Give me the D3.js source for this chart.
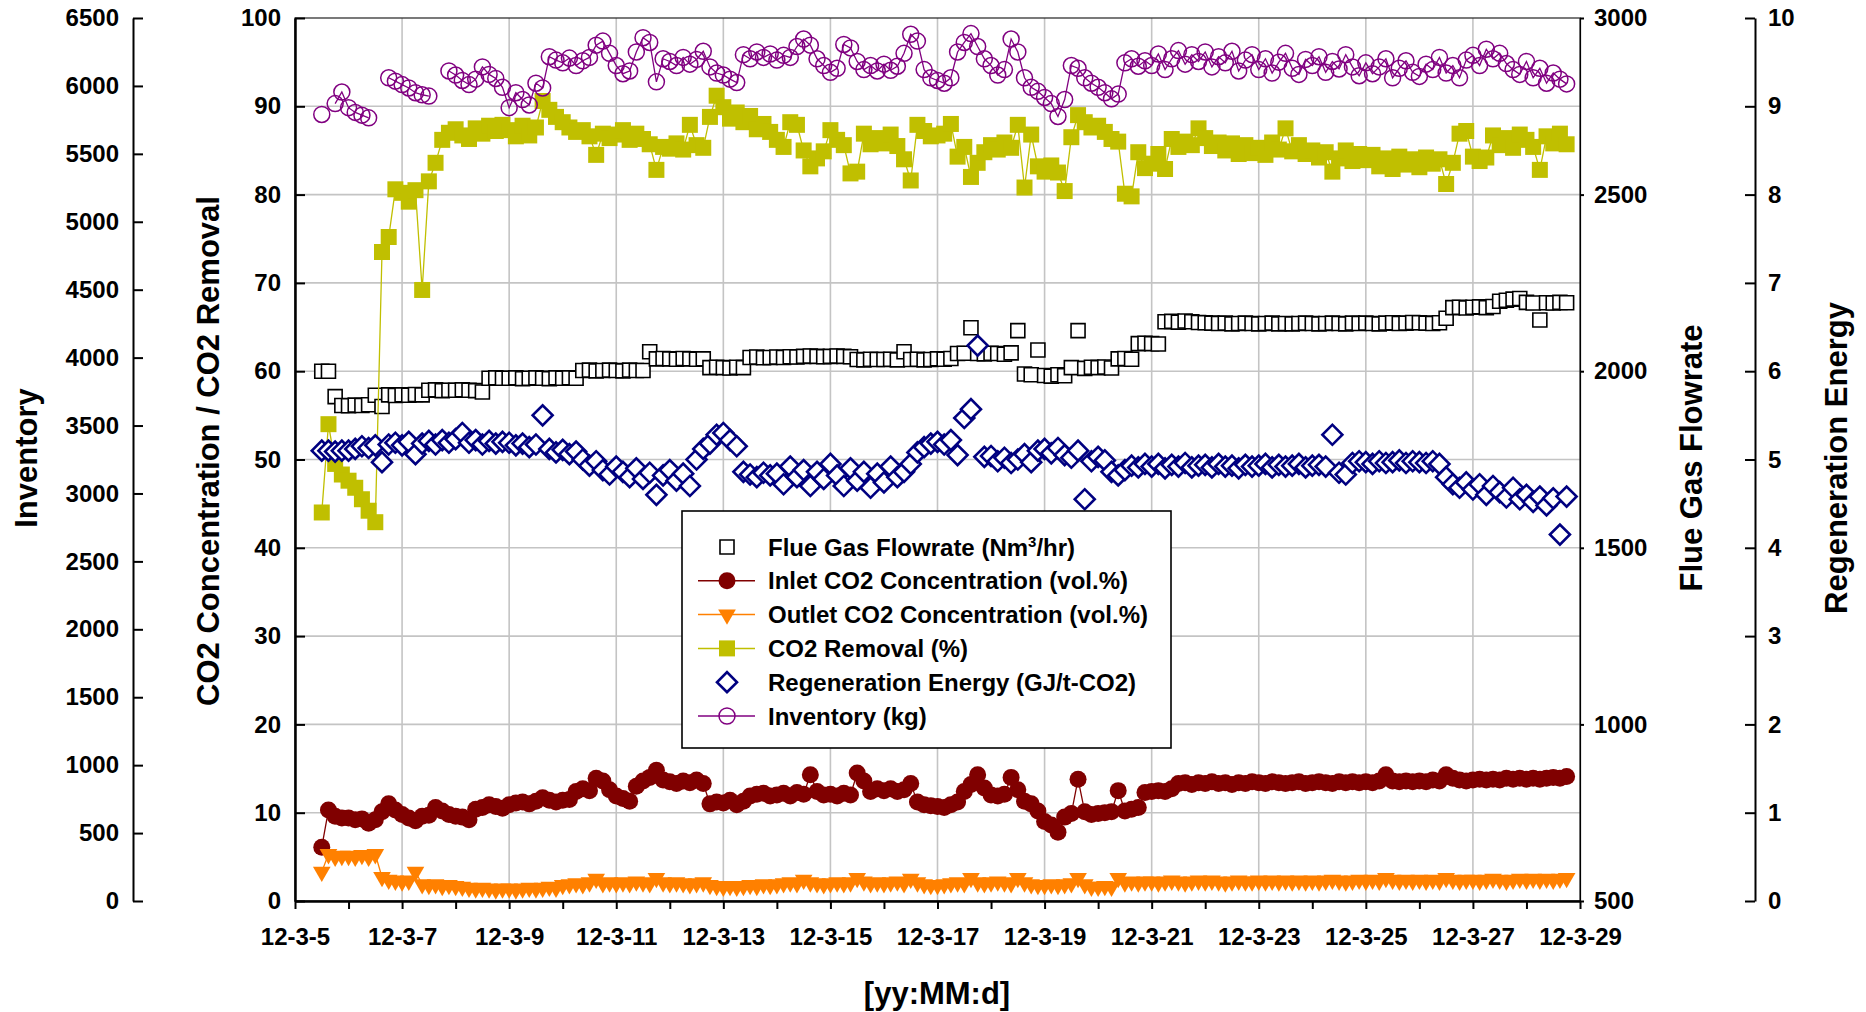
<!DOCTYPE html>
<html>
<head>
<meta charset="utf-8">
<script src="https://cdn.jsdelivr.net/npm/d3@7"></script>
<style>
  body { margin: 0; background: #fff; }
  svg { display: block; font-family: "Liberation Sans", Arial, sans-serif; font-weight: bold; }
</style>
</head>
<body>
<svg id="chart" width="1866" height="1012"></svg>
<script>
// one row per day starting 12-3-5, one reading every 3 hours
const slotHours = [0, 3, 6, 9, 12, 15, 18, 21];

// Flue gas flowrate (Nm3/hr)
const flueGas = [
  [null, null, null, null, 2000, 2000, 1928, 1903],
  [1902, 1904, 1903, 1905, 1932, 1900, 1933, 1931],
  [1933, 1932, 1934, 1933, 1946, 1947, 1945, 1946],
  [1946, 1947, 1946, 1945, 1941, 1980, 1981, 1980],
  [1980, 1981, 1979, 1980, 1981, 1980, 1979, 1981],
  [1980, 1981, 1980, 2002, 2003, 2001, 2002, 2003],
  [2002, 2001, 2003, 2002, 2002, 2055, 2035, 2036],
  [2035, 2034, 2036, 2035, 2034, 2035, 2010, 2011],
  [2010, 2009, 2011, 2010, 2039, 2040, 2038, 2039],
  [2040, 2039, 2041, 2040, 2042, 2043, 2042, 2041],
  [2042, 2043, 2042, 2041, 2033, 2032, 2034, 2033],
  [2033, 2034, 2032, 2055, 2033, 2034, 2032, 2033],
  [2035, 2034, 2036, 2050, 2051, 2123, 2050, 2049],
  [2051, 2050, 2048, 2052, 2115, 1992, 1990, 2060],
  [1988, 1986, 1990, 1987, 2010, 2115, 2008, 2011],
  [2010, 2012, 2009, 2035, 2036, 2034, 2078, 2079],
  [2078, 2077, 2140, 2141, 2139, 2142, 2140, 2138],
  [2137, 2136, 2135, 2136, 2134, 2135, 2136, 2135],
  [2134, 2135, 2136, 2134, 2135, 2134, 2135, 2136],
  [2135, 2134, 2135, 2136, 2135, 2134, 2136, 2135],
  [2136, 2135, 2134, 2136, 2137, 2135, 2136, 2138],
  [2137, 2136, 2135, 2137, 2150, 2180, 2181, 2179],
  [2181, 2182, 2180, 2183, 2198, 2201, 2204, 2206],
  [2195, 2193, 2145, 2194, 2193, 2195, 2194, null]
];

// Inlet CO2 concentration (vol.%)
const inletCO2 = [
  [null, null, null, null, 6.1, 10.3, 9.6, 9.4],
  [9.4, 9.2, 9.3, 8.8, 9.2, 10.1, 11.0, 10.3],
  [9.8, 9.4, 9.1, 9.6, 9.7, 10.6, 10.2, 9.8],
  [9.6, 9.5, 9.2, 10.4, 10.6, 10.9, 10.7, 10.5],
  [10.9, 11.1, 11.2, 11.0, 11.3, 11.7, 11.4, 11.2],
  [11.4, 11.5, 12.4, 12.7, 12.5, 13.9, 13.6, 12.6],
  [11.9, 11.6, 11.3, 13.0, 13.6, 14.0, 14.8, 13.7],
  [13.5, 13.3, 13.6, 13.4, 13.7, 13.3, 11.0, 11.2],
  [11.1, 11.4, 10.9, 11.3, 11.9, 12.1, 12.2, 11.9],
  [12.0, 12.2, 11.9, 12.3, 12.1, 14.3, 12.4, 12.0],
  [12.1, 11.9, 12.2, 12.0, 14.5, 13.6, 12.4, 12.7],
  [12.5, 12.7, 12.4, 12.6, 13.3, 11.2, 10.9, 10.8],
  [10.7, 10.6, 10.9, 11.2, 12.4, 13.2, 14.3, 12.8],
  [12.0, 11.9, 12.1, 14.0, 12.6, 11.3, 11.0, 10.2],
  [9.0, 8.6, 7.8, 9.5, 9.9, 13.8, 10.1, 9.8],
  [9.9, 10.0, 10.1, 12.5, 10.2, 10.4, 10.6, 12.3],
  [12.4, 12.5, 12.4, 12.7, 13.3, 13.4, 13.2, 13.4],
  [13.3, 13.5, 13.3, 13.4, 13.2, 13.4, 13.3, 13.5],
  [13.4, 13.3, 13.5, 13.4, 13.3, 13.4, 13.5, 13.3],
  [13.4, 13.5, 13.4, 13.3, 13.5, 13.4, 13.5, 13.4],
  [13.5, 13.4, 13.6, 14.3, 13.6, 13.5, 13.6, 13.5],
  [13.6, 13.5, 13.7, 13.6, 14.3, 13.9, 13.7, 13.6],
  [13.7, 13.8, 13.7, 13.8, 13.7, 13.9, 13.8, 13.9],
  [13.8, 13.9, 13.8, 13.9, 14.0, 13.9, 14.1, null]
];

// Outlet CO2 concentration (vol.%)
const outletCO2 = [
  [null, null, null, null, 3.3, 5.3, 5.0, 5.1],
  [5.1, 5.0, 5.2, 5.0, 5.3, 2.7, 2.4, 2.3],
  [2.2, 2.3, 3.3, 1.9, 1.8, 1.9, 1.7, 1.8],
  [1.7, 1.6, 1.5, 1.4, 1.5, 1.4, 1.3, 1.4],
  [1.4, 1.3, 1.4, 1.5, 1.4, 1.5, 1.6, 1.5],
  [1.8, 1.9, 2.0, 1.9, 2.1, 2.5, 2.0, 2.1],
  [2.0, 2.1, 2.0, 2.2, 2.1, 2.0, 2.6, 2.1],
  [2.0, 2.1, 2.0, 1.9, 2.0, 2.1, 1.8, 1.7],
  [1.6, 1.7, 1.6, 1.7, 1.8, 1.7, 1.9, 1.8],
  [1.9, 2.0, 2.1, 2.0, 2.4, 2.1, 2.0, 1.9],
  [2.0, 2.1, 2.0, 2.1, 2.6, 2.2, 2.0, 2.1],
  [2.0, 2.1, 2.2, 2.0, 2.5, 2.1, 1.9, 1.8],
  [1.8, 1.9, 2.0, 2.1, 2.0, 2.6, 2.1, 2.0],
  [2.1, 2.2, 2.1, 2.0, 2.6, 2.1, 1.9, 1.8],
  [1.8, 1.9, 1.8, 1.9, 2.0, 2.6, 1.9, 1.6],
  [1.6, 1.7, 1.6, 2.6, 2.1, 2.2, 2.1, 2.2],
  [2.2, 2.1, 2.2, 2.3, 2.2, 2.1, 2.2, 2.3],
  [2.2, 2.3, 2.2, 2.1, 2.2, 2.3, 2.2, 2.2],
  [2.3, 2.2, 2.3, 2.2, 2.3, 2.2, 2.3, 2.2],
  [2.3, 2.2, 2.3, 2.4, 2.3, 2.2, 2.3, 2.4],
  [2.3, 2.4, 2.3, 2.6, 2.4, 2.3, 2.4, 2.3],
  [2.4, 2.3, 2.4, 2.3, 2.6, 2.4, 2.3, 2.4],
  [2.4, 2.3, 2.4, 2.5, 2.4, 2.3, 2.4, 2.5],
  [2.4, 2.5, 2.4, 2.5, 2.4, 2.5, 2.6, null]
];

// CO2 removal (%)
const removal = [
  [null, null, null, null, 44.0, 54.0, 49.5, 48.3],
  [47.6, 46.8, 45.5, 44.2, 42.9, 73.5, 75.2, 80.6],
  [80.2, 79.2, 80.5, 69.2, 81.5, 83.6, 86.2, 87.0],
  [87.4, 86.7, 86.3, 87.5, 86.9, 87.8, 87.2, 87.9],
  [87.3, 86.6, 87.8, 86.7, 87.6, 90.6, 89.6, 88.8],
  [88.2, 87.6, 87.1, 87.3, 86.6, 84.5, 86.9, 86.4],
  [86.8, 87.3, 86.2, 86.9, 86.3, 85.7, 82.8, 85.4],
  [85.2, 85.8, 85.1, 87.9, 85.6, 85.3, 88.8, 91.2],
  [89.9, 88.6, 89.3, 88.2, 88.9, 87.4, 88.0, 87.1],
  [86.2, 85.4, 88.2, 87.9, 85.0, 83.2, 84.1, 84.9],
  [87.3, 86.2, 85.6, 82.4, 82.6, 86.9, 85.7, 86.4],
  [85.8, 86.8, 85.5, 84.0, 81.6, 87.9, 87.2, 86.6],
  [86.7, 86.9, 88.0, 84.3, 85.4, 82.0, 83.6, 84.8],
  [85.6, 85.1, 85.9, 85.3, 87.9, 80.8, 86.8, 83.2],
  [82.6, 83.3, 82.5, 80.4, 86.5, 89.0, 88.2, 87.6],
  [87.8, 87.1, 86.3, 86.0, 80.1, 79.8, 84.8, 83.0],
  [83.5, 84.6, 82.9, 86.3, 85.4, 86.0, 85.6, 87.5],
  [86.4, 85.5, 85.9, 85.0, 85.8, 84.6, 85.6, 84.7],
  [85.3, 84.5, 85.9, 85.1, 87.5, 84.9, 85.6, 84.6],
  [85.0, 84.2, 84.8, 82.6, 84.1, 85.0, 83.8, 84.6],
  [83.9, 84.5, 83.2, 84.1, 82.9, 84.3, 83.4, 84.0],
  [83.1, 84.2, 83.5, 84.0, 81.2, 83.6, 86.9, 87.2],
  [84.3, 83.8, 84.2, 86.7, 85.6, 86.4, 85.3, 86.8],
  [86.2, 85.4, 82.8, 86.6, 85.8, 86.9, 85.7, null]
];

// Regeneration energy (GJ/t-CO2)
const regenEnergy = [
  [null, null, null, null, 5.10, 5.10, 5.09, 5.10],
  [5.10, 5.12, 5.15, 5.13, 5.16, 4.97, 5.17, 5.19],
  [5.16, 5.20, 5.06, 5.18, 5.21, 5.17, 5.22, 5.19],
  [5.23, 5.30, 5.19, 5.22, 5.17, 5.21, 5.18, 5.20],
  [5.19, 5.16, 5.18, 5.14, 5.17, 5.50, 5.12, 5.08],
  [5.11, 5.06, 5.09, 5.00, 4.93, 4.98, 4.88, 4.83],
  [4.92, 4.86, 4.80, 4.90, 4.78, 4.85, 4.60, 4.82],
  [4.88, 4.76, 4.84, 4.70, 5.00, 5.12, 5.18, 5.28],
  [5.30, 5.22, 5.15, 4.86, 4.83, 4.80, 4.85, 4.82],
  [4.84, 4.72, 4.92, 4.80, 4.88, 4.70, 4.86, 4.78],
  [4.95, 4.82, 4.70, 4.90, 4.76, 4.86, 4.68, 4.84],
  [4.74, 4.92, 4.80, 4.86, 4.95, 5.08, 5.14, 5.18],
  [5.20, 5.17, 5.22, 5.05, 5.47, 5.57, 6.29, 5.03],
  [5.04, 4.98, 5.02, 4.96, 5.00, 5.06, 4.97, 5.10],
  [5.12, 5.07, 5.13, 5.05, 5.02, 5.10, 4.55, 4.98],
  [5.03, 4.99, 4.86, 4.82, 4.88, 4.93, 4.91, 4.95],
  [4.92, 4.95, 4.90, 4.94, 4.92, 4.96, 4.91, 4.93],
  [4.94, 4.91, 4.95, 4.92, 4.93, 4.90, 4.94, 4.92],
  [4.93, 4.95, 4.91, 4.94, 4.92, 4.93, 4.95, 4.91],
  [4.93, 4.94, 4.92, 5.28, 4.85, 4.83, 4.96, 4.98],
  [4.97, 4.95, 4.98, 4.96, 4.97, 4.99, 4.96, 4.98],
  [4.97, 4.96, 4.98, 4.95, 4.80, 4.72, 4.68, 4.74],
  [4.66, 4.72, 4.60, 4.70, 4.63, 4.57, 4.68, 4.55],
  [4.60, 4.52, 4.58, 4.48, 4.56, 4.15, 4.58, null]
];

// Inventory (kg)
const inventory = [
  [null, null, null, null, 5790, null, 5870, 5955],
  [5840, 5805, 5785, 5765, null, null, 6060, 6035],
  [6010, 5985, 5950, 5935, 5925, null, null, 6110],
  [6080, 6040, 6010, 6050, 6140, 6085, 6055, 5990],
  [5840, 5950, 5900, 5860, 6020, 5985, 6215, 6190],
  [6170, 6205, 6150, 6185, 6210, 6300, 6330, 6240],
  [6150, 6090, 6110, 6250, 6355, 6320, 6030, 6200],
  [6180, 6150, 6210, 6160, 6195, 6255, 6140, 6095],
  [6080, 6050, 6025, 6230, 6200, 6250, 6210, 6235],
  [6190, 6225, 6210, 6290, 6345, 6300, 6200, 6150],
  [6100, 6130, 6305, 6280, 6180, 6120, 6150, 6110],
  [6160, 6115, 6145, 6240, 6380, 6330, 6120, 6060],
  [6040, 6020, 6060, 6250, 6320, 6385, 6290, 6200],
  [6150, 6080, 6120, 6345, 6250, 6060, 5990, 5960],
  [5915, 5870, 5775, 5900, 6150, 6130, 6060, 6020],
  [5990, 5950, 5905, 5940, 6170, 6200, 6145, 6185],
  [6150, 6235, 6120, 6200, 6260, 6160, 6230, 6180],
  [6250, 6140, 6215, 6170, 6255, 6110, 6190, 6230],
  [6120, 6200, 6095, 6175, 6240, 6130, 6085, 6195],
  [6150, 6215, 6100, 6180, 6125, 6230, 6140, 6075],
  [6170, 6090, 6140, 6200, 6060, 6130, 6185, 6100],
  [6070, 6160, 6120, 6210, 6095, 6150, 6060, 6190],
  [6225, 6150, 6270, 6200, 6240, 6165, 6120, 6085],
  [6180, 6060, 6130, 6020, 6095, 6050, 6015, null]
];

// axis ticks
const leftTicks = d3.range(0, 101, 10);
const inventoryTicks = d3.range(0, 6501, 500);
const flueTicks = d3.range(500, 3001, 500);
const regenTicks = d3.range(0, 11, 1);

const legendLabels = [
  "Flue Gas Flowrate (Nm", "Inlet CO2 Concentration (vol.%)", "Outlet CO2 Concentration (vol.%)",
  "CO2 Removal (%)", "Regeneration Energy (GJ/t-CO2)", "Inventory (kg)"
];

const start = Date.UTC(2012, 2, 5);
function toPoints(rows) {
  const pts = [];
  rows.forEach(function(row, day) {
    row.forEach(function(v, i) {
      pts.push({ t: new Date(start + (day * 24 + slotHours[i]) * 3600e3), v: v });
    });
  });
  return pts;
}

let plot = { left: 295, right: 1580, top: 18, bottom: 901 };
const svg = d3.select('#chart');

const x = d3.scaleUtc()
  .domain([new Date(start), new Date(Date.UTC(2012, 2, 29))])
  .range([plot.left, plot.right]);
const yLeft = d3.scaleLinear().domain([0, 100]).range([plot.bottom, plot.top]);
const yInv = d3.scaleLinear().domain([0, 6500]).range([plot.bottom, plot.top]);
const yFlue = d3.scaleLinear().domain([500, 3000]).range([plot.bottom, plot.top]);
const yRegen = d3.scaleLinear().domain([0, 10]).range([plot.bottom, plot.top]);

// grid
const grid = svg.append('g').attr('stroke', '#c4c4c4').attr('stroke-width', 1.6);
grid.selectAll('line.h')
  .data(leftTicks.filter(d => d > 0 && d < 100))
  .enter().append('line')
  .attr('x1', plot.left).attr('x2', plot.right)
  .attr('y1', d => yLeft(d)).attr('y2', d => yLeft(d));
const dayTicks = d3.utcDay.range(new Date(start), new Date(Date.UTC(2012, 2, 29, 1)));
const labelDays = dayTicks.filter((d, i) => i % 2 === 0);
grid.selectAll('line.v')
  .data(labelDays.slice(1, -1))
  .enter().append('line')
  .attr('y1', plot.top).attr('y2', plot.bottom)
  .attr('x1', d => x(d)).attr('x2', d => x(d));

// frame
svg.append('rect')
  .attr('x', plot.left).attr('y', plot.top)
  .attr('width', plot.right - plot.left).attr('height', plot.bottom - plot.top)
  .attr('fill', 'none').attr('stroke', '#222').attr('stroke-width', 1.2);

function styleAxis(g, width) {
  g.select('.domain').attr('stroke', '#000').attr('stroke-width', width);
  g.selectAll('.tick line').attr('stroke', '#000').attr('stroke-width', 2);
  g.selectAll('.tick text')
    .attr('font-size', '24px').attr('font-weight', 'bold')
    .attr('font-family', '"Liberation Sans", Arial, sans-serif').attr('fill', '#000');
}
const plain = d3.format('d');

// inventory axis (far left)
svg.append('g')
  .attr('transform', 'translate(133,0)')
  .call(d3.axisLeft(yInv).tickValues(inventoryTicks).tickFormat(plain)
    .tickSizeInner(-10).tickSizeOuter(0).tickPadding(14))
  .call(g => styleAxis(g, 2));

// primary axis
svg.append('g')
  .attr('transform', 'translate(' + plot.left + ',0)')
  .call(d3.axisLeft(yLeft).tickValues(leftTicks).tickFormat(plain)
    .tickSizeInner(-10).tickSizeOuter(0).tickPadding(14))
  .call(g => styleAxis(g, 2.5));

// flue gas axis (plot right)
svg.append('g')
  .attr('transform', 'translate(' + plot.right + ',0)')
  .call(d3.axisRight(yFlue).tickValues(flueTicks).tickFormat(plain)
    .tickSizeInner(4).tickSizeOuter(0).tickPadding(10))
  .call(g => styleAxis(g, 1.2));

// regeneration energy axis (far right)
svg.append('g')
  .attr('transform', 'translate(1755,0)')
  .call(d3.axisRight(yRegen).tickValues(regenTicks).tickFormat(plain)
    .tickSizeInner(-10).tickSizeOuter(0).tickPadding(13))
  .call(g => styleAxis(g, 2));

// x axis
const fmt = d3.utcFormat('%y-%-m-%-d');
svg.append('g')
  .attr('transform', 'translate(0,' + plot.bottom + ')')
  .call(d3.axisBottom(x).tickValues(dayTicks).tickSizeInner(8).tickSizeOuter(0).tickPadding(19)
    .tickFormat((d, i) => i % 2 === 0 ? fmt(d) : ''))
  .call(g => styleAxis(g, 2.5));

// axis titles
function title(txt, tx, ty, rot) {
  svg.append('text')
    .attr('transform', 'translate(' + tx + ',' + ty + ')' + (rot ? ' rotate(-90)' : ''))
    .attr('text-anchor', 'middle')
    .attr('font-size', '31px')
    .text(txt);
}
title('Inventory', 37, 458, true);
title('CO2 Concentration / CO2 Removal', 219, 451, true);
title('Flue Gas Flowrate', 1702, 458, true);
title('Regeneration Energy', 1847, 458, true);
title('[yy:MM:d]', 937, 1004, false);

// series, drawn in legend order
const series = [
  { rows: flueGas, y: yFlue, color: '#000', kind: 'square', line: false },
  { rows: inletCO2, y: yLeft, color: '#800000', kind: 'circle', line: true },
  { rows: outletCO2, y: yLeft, color: '#FF8000', kind: 'triangle', line: true },
  { rows: removal, y: yLeft, color: '#C0BF00', kind: 'fsquare', line: true },
  { rows: regenEnergy, y: yRegen, color: '#000080', kind: 'diamond', line: false },
  { rows: inventory, y: yInv, color: '#800080', kind: 'ring', line: true }
];

function drawMarker(g, kind, color) {
  if (kind === 'square') {
    g.append('path').attr('d', d3.symbol(d3.symbolSquare, 196)())
      .attr('fill', '#fff').attr('stroke', color).attr('stroke-width', 1.6);
  } else if (kind === 'circle') {
    g.append('circle').attr('r', 8.5).attr('fill', color);
  } else if (kind === 'triangle') {
    g.append('path').attr('d', d3.symbol(d3.symbolTriangle, 135)())
      .attr('transform', 'rotate(180)').attr('fill', color);
  } else if (kind === 'fsquare') {
    g.append('path').attr('d', d3.symbol(d3.symbolSquare, 256)()).attr('fill', color);
  } else if (kind === 'diamond') {
    g.append('path').attr('d', d3.symbol(d3.symbolSquare, 200)())
      .attr('transform', 'rotate(45)')
      .attr('fill', '#fff').attr('stroke', color).attr('stroke-width', 2.6);
  } else if (kind === 'ring') {
    g.append('circle').attr('r', 8)
      .attr('fill', 'none').attr('stroke', color).attr('stroke-width', 1.5);
  }
}

series.forEach(function(s) {
  const pts = toPoints(s.rows);
  const g = svg.append('g');
  if (s.line) {
    g.append('path')
      .attr('d', d3.line().defined(d => d.v != null).x(d => x(d.t)).y(d => s.y(d.v))(pts))
      .attr('fill', 'none').attr('stroke', s.color).attr('stroke-width', 1.3);
  }
  g.selectAll('g.m')
    .data(pts.filter(d => d.v != null))
    .enter().append('g')
    .attr('transform', d => 'translate(' + x(d.t) + ',' + s.y(d.v) + ')')
    .each(function() { drawMarker(d3.select(this), s.kind, s.color); });
});

// legend
const legend = svg.append('g');
legend.append('rect')
  .attr('x', 682).attr('y', 511).attr('width', 489).attr('height', 237)
  .attr('fill', '#fff').attr('stroke', '#000').attr('stroke-width', 1.6);
series.forEach(function(s, i) {
  const cy = 547 + i * 33.8;
  if (s.line) {
    legend.append('line').attr('x1', 698).attr('x2', 755).attr('y1', cy).attr('y2', cy)
      .attr('stroke', s.color).attr('stroke-width', 1.5);
  }
  drawMarker(legend.append('g').attr('transform', 'translate(727,' + cy + ')'), s.kind, s.color);
  const t = legend.append('text').attr('x', 768).attr('y', cy + 8.5).attr('font-size', '24px');
  t.append('tspan').text(legendLabels[i]);
  if (i === 0) {
    t.append('tspan').attr('font-size', '15px').attr('dy', -9).text('3');
    t.append('tspan').attr('dy', 9).text('/hr)');
  }
});
</script>
</body>
</html>
